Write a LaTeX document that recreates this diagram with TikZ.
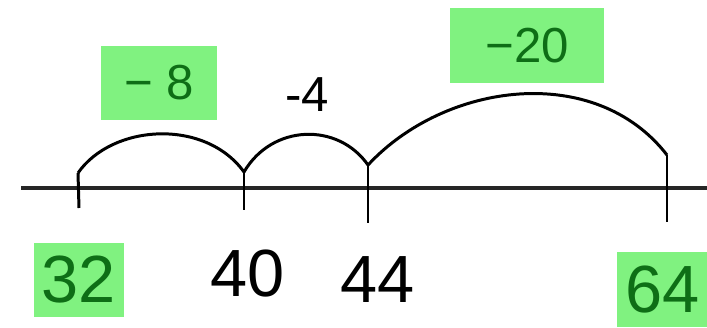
\documentclass[tikz,border=0pt]{standalone}
\usepackage{fontspec}
\setmainfont{Liberation Sans}
\usepackage{xcolor}
\usepackage{tikz}
\usetikzlibrary{positioning,calc}

\definecolor{hlgreen}{RGB}{128,242,128}
\definecolor{inkgreen}{RGB}{14,110,22}

\begin{document}
\begin{tikzpicture}[
  x=0.02cm, y=-0.02cm,
  axis/.style={line width=2.2pt, black!85},
  jump/.style={line width=1.7pt, line join=round},
  tickmark/.style={line width=1.7pt},
  hl/.style={fill=hlgreen, text=inkgreen, inner sep=0pt, minimum height=1.5cm},
  big/.style={font=\fontsize{38}{38}\selectfont},
  small/.style={font=\fontsize{28}{28}\selectfont}
]
\useasboundingbox (0,0) rectangle (707,328);
% number line
\coordinate (left) at (21,188);
\coordinate (right) at (707,188);
\draw[axis] (left) -- (right);
% tick tops and bottoms
\coordinate (t32) at (78,173);  \coordinate (b32) at (79,208);
\coordinate (t40) at (244,172); \coordinate (b40) at (244,210);
\coordinate (t44) at (368,165); \coordinate (b44) at (368,223);
\coordinate (t64) at (667,155); \coordinate (b64) at (667,222);
\draw[tickmark] (t32) -- (b32);
\draw[tickmark] (t40) -- (b40);
\draw[tickmark] (t44) -- (b44);
\draw[tickmark] (t64) -- (b64);
% jumps
\draw[jump] (t32) .. controls (112,124) and (205,118) .. (t40);
\draw[jump] (t40) .. controls (272,124) and (338,122) .. (t44);
\draw[jump] (t44) .. controls (445,82) and (595,62) .. (t64);
% labels
\node[hl, big, minimum width=1.8cm] (n32) at (79,280) {32};
\node[big] (n40) at (248,274) {40};
\node[big] (n44) at (378,280) {44};
\node[hl, big, minimum width=1.84cm] (n64) at (663,289.5) {64};
\node[hl, small, minimum width=2.32cm] (m8) at (159,83) {− 8};
\node[small] (m4) at (307,95) {-4};
\node[hl, small, minimum width=3.08cm] (m20) at (527,45.5) {−20};
\end{tikzpicture}
\end{document}
